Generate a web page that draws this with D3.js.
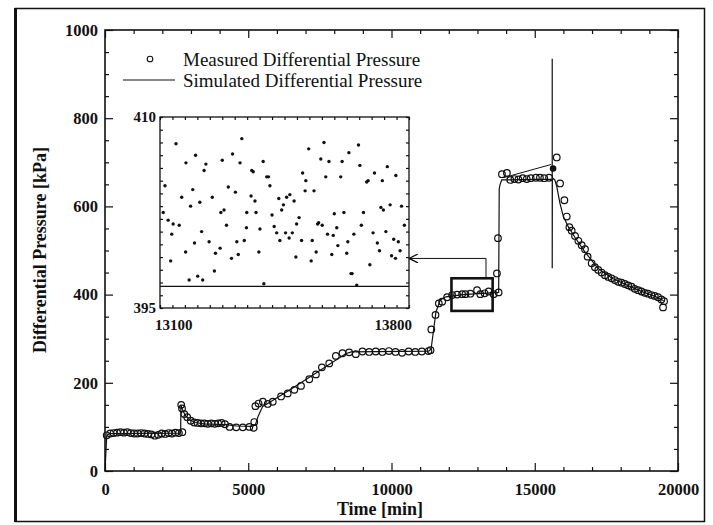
<!DOCTYPE html>
<html>
<head>
<meta charset="utf-8">
<script src="https://cdn.jsdelivr.net/npm/d3@7"></script>
<style>
body { margin: 0; background: #fff; }
svg text { font-family: "Liberation Serif", "Times New Roman", serif; fill: #111; }
.tick text { font-weight: bold; font-size: 16.5px; }
.domain { display: none; }
.tick line { stroke: #111; stroke-width: 1.2; }
</style>
</head>
<body>
<svg id="chart" width="713" height="525"></svg>
<script>
// axis ticks
const xMajor = [0, 5000, 10000, 15000, 20000];
const yMajor = [0, 200, 400, 600, 800, 1000];
const insetXLabels = [13100, 13800];
const insetYLabels = [395, 410];

// measured differential pressure (open circles)
const measTime = [60, 180, 300, 420, 540, 660, 780, 900, 1020, 1140, 1260, 1380, 1500, 1620, 1740, 1860, 1980, 2100, 2220, 2340, 2460, 2580, 2700,
  2660, 2690, 2770, 2870, 2990, 3110, 3230, 3350, 3470, 3590, 3710, 3830, 3950, 4070, 4190, 4350, 4580, 4810, 5040, 5190, 5210,
  5250, 5360, 5510, 5680, 5855, 6145, 6377, 6609, 6841, 7130, 7362, 7570, 7826, 8058, 8290, 8522, 8754, 8985, 9220, 9450, 9680, 9910, 10140, 10370, 10600, 10830, 11060, 11290, 11362,
  11390, 11536, 11652, 11768, 11942, 12116, 12290, 12464, 12580, 12754, 12986, 13100, 13250, 13391, 13565, 13739, 13681, 13716,
  13855, 14029, 14145, 14290, 14430, 14580, 14720, 14860, 15040, 15180, 15330, 15500, 15768, 15884, 16035, 16116, 16209, 16290, 16406, 16522, 16638, 16754, 16846, 16986, 17100, 17217, 17333, 17449, 17565, 17681, 17797, 17913, 18030, 18145, 18260, 18377, 18490, 18609, 18725, 18841, 18955, 19072, 19190, 19304, 19420, 19513, 19478];
const measValue = [81, 85, 86, 87, 88, 87, 88, 86, 85, 85, 86, 85, 84, 83, 80, 82, 85, 84, 86, 85, 87, 86, 88,
  150, 142, 129, 122, 114, 110, 109, 108, 108, 107, 108, 107, 108, 109, 106, 100, 99, 99, 100, 98, 111,
  147, 153, 157, 152, 157, 169, 176, 184, 193, 208, 219, 235, 244, 261, 267, 269, 265, 271, 270, 271, 270, 272, 270, 268, 271, 270, 271, 272, 274,
  321, 354, 380, 384, 394, 399, 400, 401, 401, 402, 410, 401, 403, 407, 401, 405, 448, 528,
  673, 676, 660, 662, 661, 664, 662, 664, 665, 665, 664, 665, 711, 652, 614, 577, 553, 545, 533, 522, 512, 503, 486, 471, 462, 456, 450, 444, 440, 437, 433, 429, 427, 424, 421, 418, 413, 410, 407, 404, 402, 399, 397, 394, 389, 385, 371];
const filledTime = [15640];
const filledValue = [686];

// simulated differential pressure (solid line)
const simTime = [0, 60, 150, 2640, 2650, 2700, 2800, 2950, 3150, 3450, 4200, 4600, 5150, 5250, 5350, 5500, 5650, 6500, 7500, 8400, 8600, 11300, 11380, 11450, 11550, 11700, 11900, 12500, 13740, 13760, 13790, 13850, 15610, 15610, 15610, 15615, 15700, 15770, 15880, 16000, 16170, 16400, 16750, 17200, 17700, 18200, 18700, 19200, 19500];
const simValue = [0, 80, 85, 86, 150, 140, 126, 116, 110, 107, 105, 102, 101, 105, 125, 146, 152, 186, 228, 266, 270, 272, 276, 310, 360, 388, 395, 400, 405, 640, 650, 660, 662, 935, 460, 665, 660, 645, 607, 577, 554, 530, 497, 460, 437, 422, 408, 396, 386];
const branchTime = [13900, 15570];
const branchValue = [665, 695];

// zoom box and arrow (main data units)
const boxTime = [12093, 13530];
const boxValue = [363, 437];
const arrowTime = [13298, 13298, 10611];
const arrowValue = [437, 482, 482];

// inset: measured points 13100-13800 min
const insetTime = [13114, 13109, 13123, 13137, 13154, 13133, 13130, 13145, 13161, 13173, 13186, 13192, 13200, 13172, 13197, 13182, 13206, 13220, 13212, 13217, 13224, 13229, 13238, 13247, 13253, 13256, 13269, 13271, 13280, 13275, 13287, 13292, 13301, 13304, 13312, 13316, 13320, 13325, 13330, 13337, 13343, 13344, 13356, 13358, 13362, 13367, 13370, 13378, 13381, 13390, 13400, 13405, 13409, 13415, 13421, 13428, 13434, 13437, 13442, 13447, 13456, 13453, 13463, 13465, 13472, 13477, 13482, 13484, 13491, 13498, 13501, 13508, 13510, 13518, 13525, 13528, 13533, 13539, 13543, 13546, 13552, 13556, 13561, 13566, 13571, 13575, 13583, 13587, 13590, 13597, 13600, 13608, 13612, 13617, 13625, 13628, 13631, 13640, 13645, 13653, 13658, 13662, 13666, 13672, 13681, 13685, 13690, 13699, 13703, 13711, 13717, 13725, 13721, 13728, 13735, 13739, 13747, 13751, 13757, 13762, 13763, 13770, 13775, 13779, 13787, 13392, 13637];
const insetValue = [404.6, 402.5, 401.9, 401.6, 401.5, 400.8, 398.7, 407.9, 403.7, 406.4, 403.0, 404.3, 407.0, 399.4, 400.1, 397.2, 397.5, 397.2, 403.3, 401.0, 405.8, 406.3, 400.2, 403.7, 397.9, 399.3, 399.7, 402.5, 402.7, 406.6, 401.5, 404.5, 398.9, 407.1, 404.1, 400.2, 399.2, 406.4, 408.3, 400.3, 401.3, 402.5, 403.8, 405.8, 405.7, 403.4, 402.5, 399.4, 401.2, 406.5, 405.3, 405.3, 404.6, 402.3, 401.4, 400.9, 403.6, 400.3, 402.7, 403.1, 403.7, 400.9, 400.5, 403.9, 400.9, 403.4, 399.0, 401.6, 402.1, 400.3, 405.6, 404.2, 405.0, 407.5, 398.7, 400.3, 404.2, 399.4, 401.6, 401.7, 406.7, 401.5, 408.0, 405.3, 400.8, 406.5, 399.2, 400.7, 402.4, 401.3, 399.9, 405.3, 406.5, 402.5, 399.3, 400.2, 407.2, 397.7, 400.8, 396.8, 407.8, 406.2, 401.5, 402.5, 404.9, 405.0, 398.4, 400.9, 405.6, 400.1, 399.5, 405.0, 402.9, 402.7, 401.0, 406.1, 403.1, 399.1, 400.4, 398.9, 405.4, 400.2, 399.5, 403.0, 401.5, 396.9, 397.7];
const insetSimTime = [13100, 13800];
const insetSimValue = [396.7, 396.7];

const svg = d3.select("#chart");
const mLeft = 105, mRight = 678, mTop = 30, mBottom = 471;

const x = d3.scaleLinear().domain([0, 20000]).range([mLeft, mRight]);
const y = d3.scaleLinear().domain([0, 1000]).range([mBottom, mTop]);

// outer frame
svg.append("rect").attr("x", 15.5).attr("y", 8.5).attr("width", 689).attr("height", 513)
  .attr("fill", "none").attr("stroke", "#111").attr("stroke-width", 1.5);
svg.append("line").attr("x1", 15.5).attr("x2", 15.5).attr("y1", 8).attr("y2", 522)
  .attr("stroke", "#111").attr("stroke-width", 3);

const xMinor = d3.range(0, 20001, 1000).filter((d) => d % 5000);
const yMinor = d3.range(0, 1001, 50).filter((d) => d % 200);

const fmt = d3.format("d");
svg.append("g").attr("transform", `translate(0,${mBottom})`)
  .call(d3.axisBottom(x).tickValues(xMajor).tickSize(-8).tickPadding(12).tickFormat(fmt));
svg.append("g").attr("transform", `translate(0,${mBottom})`)
  .call(d3.axisBottom(x).tickValues(xMinor).tickSize(-4).tickFormat(""));
svg.append("g").attr("transform", `translate(0,${mTop})`)
  .call(d3.axisTop(x).tickValues(xMajor).tickSize(-8).tickFormat(""));
svg.append("g").attr("transform", `translate(0,${mTop})`)
  .call(d3.axisTop(x).tickValues(xMinor).tickSize(-4).tickFormat(""));
svg.append("g").attr("transform", `translate(${mLeft},0)`)
  .call(d3.axisLeft(y).tickValues(yMajor).tickSize(-8).tickPadding(7).tickFormat(fmt));
svg.append("g").attr("transform", `translate(${mLeft},0)`)
  .call(d3.axisLeft(y).tickValues(yMinor).tickSize(-4).tickFormat(""));
svg.append("g").attr("transform", `translate(${mRight},0)`)
  .call(d3.axisRight(y).tickValues(yMajor).tickSize(-8).tickFormat(""));
svg.append("g").attr("transform", `translate(${mRight},0)`)
  .call(d3.axisRight(y).tickValues(yMinor).tickSize(-4).tickFormat(""));
svg.selectAll(".tick text").attr("font-family", "Liberation Serif, serif");

svg.append("rect").attr("x", mLeft).attr("y", mTop).attr("width", mRight - mLeft).attr("height", mBottom - mTop)
  .attr("fill", "none").attr("stroke", "#111").attr("stroke-width", 1.6);

// axis titles
svg.append("text").attr("x", 380).attr("y", 515).attr("text-anchor", "middle")
  .attr("font-weight", "bold").attr("font-size", 18).text("Time [min]");
svg.append("text").attr("transform", "translate(46,250) rotate(-90)").attr("text-anchor", "middle")
  .attr("font-weight", "bold").attr("font-size", 18).text("Differential Pressure [kPa]");

// simulated line
const line = d3.line().x((d) => x(d[0])).y((d) => y(d[1]));
svg.append("path").datum(d3.zip(simTime, simValue)).attr("d", line)
  .attr("fill", "none").attr("stroke", "#111").attr("stroke-width", 1.2);
svg.append("path").datum(d3.zip(branchTime, branchValue)).attr("d", line)
  .attr("fill", "none").attr("stroke", "#111").attr("stroke-width", 1);

// measured circles
svg.append("g").selectAll("circle").data(d3.zip(measTime, measValue)).join("circle")
  .attr("cx", (d) => x(d[0])).attr("cy", (d) => y(d[1])).attr("r", 3.3)
  .attr("fill", "none").attr("stroke", "#111").attr("stroke-width", 1.2);
svg.append("g").selectAll("circle").data(d3.zip(filledTime, filledValue)).join("circle")
  .attr("cx", (d) => x(d[0])).attr("cy", (d) => y(d[1])).attr("r", 3.3).attr("fill", "#111");

// zoom box and arrow
svg.append("rect").attr("x", x(boxTime[0])).attr("y", y(boxValue[1]))
  .attr("width", x(boxTime[1]) - x(boxTime[0])).attr("height", y(boxValue[0]) - y(boxValue[1]))
  .attr("fill", "none").attr("stroke", "#111").attr("stroke-width", 2.6);
svg.append("defs").append("marker").attr("id", "arr").attr("viewBox", "0 0 10 10")
  .attr("refX", 10).attr("refY", 5).attr("markerWidth", 12).attr("markerHeight", 9)
  .attr("markerUnits", "userSpaceOnUse").attr("orient", "auto")
  .append("path").attr("d", "M0,0 L10,5 L0,10").attr("fill", "none").attr("stroke", "#111").attr("stroke-width", 1.4);
svg.append("path").datum(d3.zip(arrowTime, arrowValue)).attr("d", line)
  .attr("fill", "none").attr("stroke", "#111").attr("stroke-width", 1).attr("marker-end", "url(#arr)");

// legend
svg.append("circle").attr("cx", 150).attr("cy", 59).attr("r", 2.8)
  .attr("fill", "none").attr("stroke", "#111").attr("stroke-width", 1.1);
svg.append("text").attr("x", 183).attr("y", 66).attr("font-size", 19).text("Measured Differential Pressure");
svg.append("line").attr("x1", 123).attr("x2", 175).attr("y1", 80).attr("y2", 80)
  .attr("stroke", "#111").attr("stroke-width", 1.1);
svg.append("text").attr("x", 183).attr("y", 87).attr("font-size", 19).text("Simulated Differential Pressure");

// inset
const iL = 160, iR = 409, iT = 117, iB = 308;
const xi = d3.scaleLinear().domain([13100, 13800]).range([iL, iR]);
const yi = d3.scaleLinear().domain([395, 410]).range([iB, iT]);
const inset = svg.append("g");
inset.append("rect").attr("x", iL).attr("y", iT).attr("width", iR - iL).attr("height", iB - iT)
  .attr("fill", "#fff").attr("stroke", "#111").attr("stroke-width", 1.3);
const xiTicks = d3.range(13100, 13801, 35);
const yiTicks = d3.range(395, 411, 1);
inset.append("g").attr("transform", `translate(0,${iB})`)
  .call(d3.axisBottom(xi).tickValues(xiTicks).tickSize(-3).tickFormat(""));
inset.append("g").attr("transform", `translate(0,${iT})`)
  .call(d3.axisTop(xi).tickValues(xiTicks).tickSize(-3).tickFormat(""));
inset.append("g").attr("transform", `translate(${iL},0)`)
  .call(d3.axisLeft(yi).tickValues(yiTicks).tickSize(-3).tickFormat(""));
inset.append("g").attr("transform", `translate(${iR},0)`)
  .call(d3.axisRight(yi).tickValues(yiTicks).tickSize(-3).tickFormat(""));
inset.selectAll(".tick line").attr("stroke-width", 1);

inset.append("path").datum(d3.zip(insetSimTime, insetSimValue))
  .attr("d", d3.line().x((d) => xi(d[0])).y((d) => yi(d[1])))
  .attr("fill", "none").attr("stroke", "#111").attr("stroke-width", 1.2);
inset.append("g").selectAll("circle").data(d3.zip(insetTime, insetValue)).join("circle")
  .attr("cx", (d) => xi(d[0])).attr("cy", (d) => yi(d[1])).attr("r", 1.7).attr("fill", "#111");

inset.selectAll(".ylab").data(insetYLabels).join("text")
  .attr("x", iL - 4).attr("y", (d) => yi(d) + 5).attr("text-anchor", "end")
  .attr("font-weight", "bold").attr("font-size", 15).text((d) => d);
inset.selectAll(".xlab").data(insetXLabels).join("text")
  .attr("x", (d, i) => xi(d) + (i === 0 ? -5 : 3)).attr("y", iB + 22)
  .attr("text-anchor", (d, i) => (i === 0 ? "start" : "end"))
  .attr("font-weight", "bold").attr("font-size", 15).text((d) => d);
</script>
</body>
</html>
